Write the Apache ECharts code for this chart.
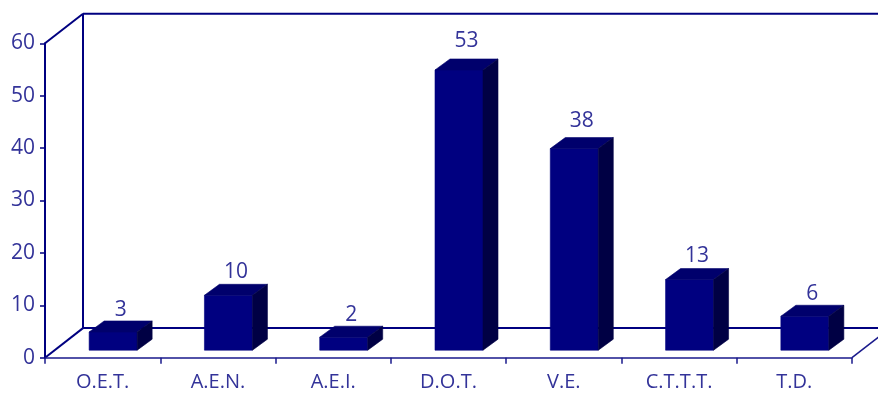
<!DOCTYPE html>
<html>
<head>
<meta charset="utf-8">
<script src="https://cdn.jsdelivr.net/npm/echarts@6/dist/echarts.min.js"></script>
<style>html,body{margin:0;padding:0;background:#fff}#c{width:878px;height:396px}</style>
</head>
<body>
<div id="c"></div>
<script>
const categories = ['O.E.T.', 'A.E.N.', 'A.E.I.', 'D.O.T.', 'V.E.', 'C.T.T.T.', 'T.D.'];
const values = [3, 10, 2, 53, 38, 13, 6];
const yTicks = [0, 10, 20, 30, 40, 50, 60];

const NAVY = '#000080';
const TXT = '#333399';
const FONT = 'Open Sans';
const WALL_DX = 38, WALL_DY = -29.6;   // depth of the back wall
const BAR_DX = 15, BAR_DY = -11;       // depth of each bar
const BAR_W = 48, BAR_SHIFT = 10.5;

const chart = echarts.init(document.getElementById('c'), null, {renderer: 'canvas'});

function renderBar(params, api) {
  const cat = api.value(0), v = api.value(1);
  const base = api.coord([cat, 0]);
  const top = api.coord([cat, v]);
  const cx = base[0] + BAR_SHIFT;
  const x0 = cx - BAR_W / 2, x1 = cx + BAR_W / 2;
  const yTop = top[1] - 10, yBot = base[1] - 7.5;
  const labelBottom = yTop + BAR_DY - 5 - 0.15 * v;
  return {
    type: 'group',
    children: [
      {type: 'polygon', z2: 1, shape: {points: [[x0, yTop], [x1, yTop], [x1, yBot], [x0, yBot]]},
       style: {fill: NAVY, stroke: NAVY, lineWidth: 0.6}},
      {type: 'polygon', z2: 1, shape: {points: [[x0, yTop], [x1, yTop], [x1 + BAR_DX, yTop + BAR_DY], [x0 + BAR_DX, yTop + BAR_DY]]},
       style: {fill: '#00006c', stroke: '#00006c', lineWidth: 0.6}},
      {type: 'polygon', z2: 1, shape: {points: [[x1, yTop], [x1 + BAR_DX, yTop + BAR_DY], [x1 + BAR_DX, yBot + BAR_DY], [x1, yBot]]},
       style: {fill: '#000044', stroke: '#000044', lineWidth: 0.6}},
      {type: 'text', z2: 2, x: cx + BAR_DX / 2, y: labelBottom + 5,
       style: {text: String(v), fill: TXT, font: '21px "' + FONT + '"', align: 'center', verticalAlign: 'bottom'}}
    ]
  };
}

function renderFrame(params, api) {
  const r = params.coordSys;
  const L = r.x, R = r.x + r.width, T = r.y, B = r.y + r.height;
  const ls = {stroke: NAVY, lineWidth: 2, fill: null};
  const line = (a, b, s) => ({type: 'line', shape: {x1: a[0], y1: a[1], x2: b[0], y2: b[1]}, style: s || ls});
  return {
    type: 'group',
    children: [
      line([L, T], [L + WALL_DX, T + WALL_DY]),
      line([L, B], [L + WALL_DX, B + WALL_DY]),
      line([L + WALL_DX, T + WALL_DY], [L + WALL_DX, B + WALL_DY]),
      line([L + WALL_DX, T + WALL_DY], [R + WALL_DX, T + WALL_DY]),
      line([L + WALL_DX, B + WALL_DY], [R + WALL_DX, B + WALL_DY]),
      line([R, B], [R + WALL_DX, B + WALL_DY], {stroke: '#1a1a8c', lineWidth: 1.5, fill: null})
    ]
  };
}

chart.setOption({
  animation: false,
  grid: {left: 45, right: 26, top: 43.3, bottom: 38.3},
  xAxis: {
    type: 'category',
    data: categories,
    boundaryGap: true,
    axisLine: {show: true, lineStyle: {color: '#1a1a8c', width: 1.5}},
    axisTick: {show: true, length: 6, lineStyle: {color: '#1a1a8c', width: 1.5}},
    axisLabel: {color: TXT, fontFamily: FONT, fontSize: 20, margin: 15}
  },
  yAxis: {
    type: 'value',
    min: yTicks[0], max: yTicks[yTicks.length - 1], interval: 10,
    axisLine: {show: true, lineStyle: {color: NAVY, width: 2}},
    axisTick: {show: true, length: 5, lineStyle: {color: NAVY, width: 1.5}},
    splitLine: {show: false},
    axisLabel: {color: TXT, fontFamily: FONT, fontSize: 21, margin: 10}
  },
  series: [{
    type: 'custom',
    renderItem: renderFrame,
    data: [[0, 0]],
    clip: false,
    silent: true,
    z: 0
  }, {
    type: 'custom',
    renderItem: renderBar,
    data: values.map((v, i) => [i, v]),
    clip: false,
    z: 10
  }]
});
</script>
</body>
</html>
